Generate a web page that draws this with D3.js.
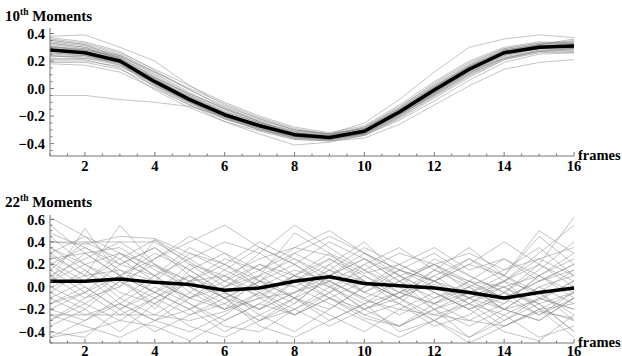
<!DOCTYPE html>
<html>
<head>
<meta charset="utf-8">
<script src="https://cdn.jsdelivr.net/npm/d3@7"></script>
<style>
  body { margin: 0; background: #fff; }
  text { font-family: "Liberation Serif", "Times New Roman", serif; font-weight: bold; }
</style>
</head>
<body>
<div id="chart"></div>
<script>
var svgWidth = 622;
var svgHeight = 356;

// frame numbers on the x axis
var frames = d3.range(1, 17);

// 10th moments: one row per sequence
var moments10 = [
  [0.38, 0.39, 0.30, 0.20, 0.02, -0.12, -0.22, -0.30, -0.33, -0.25, -0.08, 0.12, 0.30, 0.36, 0.39, 0.37],
  [-0.05, -0.05, -0.08, -0.10, -0.13, -0.20, -0.26, -0.32, -0.34, -0.30, -0.18, -0.02, 0.12, 0.22, 0.27, 0.29],
  [0.18, 0.17, 0.12, 0.00, -0.12, -0.22, -0.29, -0.36, -0.38, -0.36, -0.26, -0.12, 0.02, 0.14, 0.19, 0.21],
  [0.30, 0.28, 0.22, 0.08, -0.05, -0.17, -0.25, -0.33, -0.35, -0.30, -0.16, 0.00, 0.15, 0.27, 0.31, 0.32],
  [0.25, 0.24, 0.17, 0.02, -0.11, -0.22, -0.30, -0.36, -0.37, -0.33, -0.20, -0.04, 0.11, 0.23, 0.28, 0.29],
  [0.33, 0.30, 0.24, 0.10, -0.04, -0.15, -0.24, -0.31, -0.34, -0.28, -0.13, 0.03, 0.18, 0.29, 0.33, 0.34],
  [0.22, 0.21, 0.15, -0.01, -0.14, -0.24, -0.31, -0.37, -0.38, -0.34, -0.22, -0.07, 0.08, 0.21, 0.26, 0.27],
  [0.35, 0.32, 0.25, 0.12, -0.01, -0.13, -0.22, -0.30, -0.33, -0.29, -0.14, 0.02, 0.17, 0.28, 0.32, 0.35],
  [0.27, 0.26, 0.21, 0.06, -0.07, -0.18, -0.27, -0.34, -0.36, -0.32, -0.18, -0.02, 0.13, 0.25, 0.30, 0.30],
  [0.31, 0.27, 0.19, 0.03, -0.10, -0.21, -0.28, -0.34, -0.35, -0.31, -0.17, -0.01, 0.14, 0.26, 0.31, 0.33],
  [0.20, 0.20, 0.16, 0.04, -0.09, -0.20, -0.28, -0.35, -0.36, -0.31, -0.19, -0.05, 0.10, 0.22, 0.28, 0.28],
  [0.36, 0.33, 0.26, 0.14, 0.02, -0.10, -0.20, -0.28, -0.32, -0.27, -0.12, 0.05, 0.20, 0.30, 0.34, 0.33],
  [0.24, 0.23, 0.19, 0.07, -0.06, -0.18, -0.27, -0.35, -0.37, -0.33, -0.20, -0.03, 0.12, 0.24, 0.29, 0.31],
  [0.29, 0.27, 0.20, 0.04, -0.09, -0.21, -0.30, -0.37, -0.38, -0.32, -0.17, 0.00, 0.16, 0.27, 0.31, 0.30],
  [0.32, 0.29, 0.23, 0.09, -0.05, -0.16, -0.25, -0.33, -0.36, -0.33, -0.21, -0.06, 0.09, 0.21, 0.27, 0.28],
  [0.26, 0.25, 0.21, 0.07, -0.07, -0.19, -0.26, -0.32, -0.34, -0.29, -0.15, 0.02, 0.16, 0.27, 0.30, 0.32],
  [0.30, 0.29, 0.22, 0.05, -0.08, -0.18, -0.26, -0.33, -0.34, -0.30, -0.16, -0.01, 0.15, 0.28, 0.31, 0.29],
  [0.23, 0.24, 0.18, 0.03, -0.10, -0.20, -0.28, -0.34, -0.36, -0.31, -0.18, -0.03, 0.13, 0.25, 0.29, 0.30],
  [0.34, 0.31, 0.24, 0.11, -0.03, -0.15, -0.24, -0.32, -0.35, -0.31, -0.17, 0.00, 0.16, 0.27, 0.32, 0.34],
  [0.28, 0.25, 0.18, 0.01, -0.12, -0.24, -0.33, -0.41, -0.39, -0.34, -0.21, -0.05, 0.10, 0.22, 0.27, 0.26],
  [0.21, 0.22, 0.19, 0.08, -0.04, -0.14, -0.23, -0.30, -0.33, -0.29, -0.16, 0.01, 0.17, 0.28, 0.32, 0.36],
  [0.37, 0.34, 0.27, 0.13, -0.01, -0.14, -0.24, -0.33, -0.36, -0.32, -0.19, -0.04, 0.12, 0.25, 0.31, 0.31],
  [0.26, 0.24, 0.20, 0.06, -0.06, -0.17, -0.25, -0.31, -0.33, -0.28, -0.14, 0.04, 0.19, 0.29, 0.33, 0.32],
  [0.29, 0.28, 0.23, 0.08, -0.07, -0.20, -0.29, -0.36, -0.37, -0.33, -0.19, -0.03, 0.13, 0.25, 0.30, 0.31],
  [0.33, 0.30, 0.21, 0.04, -0.10, -0.22, -0.30, -0.35, -0.36, -0.30, -0.15, 0.01, 0.16, 0.27, 0.30, 0.30],
  [0.19, 0.19, 0.14, 0.02, -0.10, -0.21, -0.29, -0.35, -0.37, -0.34, -0.23, -0.09, 0.06, 0.19, 0.25, 0.26],
  [0.31, 0.28, 0.24, 0.12, 0.00, -0.11, -0.21, -0.29, -0.33, -0.29, -0.15, 0.01, 0.15, 0.26, 0.30, 0.33],
  [0.27, 0.27, 0.22, 0.07, -0.08, -0.20, -0.28, -0.35, -0.37, -0.32, -0.18, -0.02, 0.14, 0.26, 0.30, 0.29],
  [0.35, 0.32, 0.22, 0.05, -0.09, -0.20, -0.28, -0.34, -0.35, -0.31, -0.16, 0.00, 0.15, 0.27, 0.32, 0.33],
  [0.24, 0.22, 0.17, 0.05, -0.07, -0.18, -0.27, -0.34, -0.36, -0.32, -0.19, -0.04, 0.11, 0.24, 0.29, 0.31]
];
var mean10 = [0.28, 0.26, 0.20, 0.05, -0.08, -0.19, -0.27, -0.335, -0.355, -0.31, -0.17, -0.01, 0.14, 0.26, 0.30, 0.31];

// 22th moments: one row per sequence
var moments22 = [
  [0.62, 0.45, 0.30, 0.18, 0.05, 0.10, 0.25, 0.35, 0.28, 0.12, 0.20, 0.05, -0.05, -0.15, 0.10, 0.30],
  [0.40, 0.40, 0.40, 0.40, 0.22, 0.05, -0.08, 0.10, 0.30, 0.15, -0.05, 0.02, -0.10, -0.20, -0.12, 0.05],
  [-0.25, -0.25, -0.25, -0.25, -0.30, -0.22, -0.10, -0.05, 0.05, -0.12, -0.20, -0.25, -0.30, -0.35, -0.22, -0.28],
  [0.05, 0.52, 0.10, -0.20, 0.15, 0.30, 0.05, -0.10, 0.20, 0.40, 0.10, -0.15, 0.05, 0.25, 0.10, -0.05],
  [0.30, 0.10, 0.55, 0.20, -0.05, -0.20, 0.10, 0.48, 0.30, 0.05, -0.10, 0.15, 0.35, 0.10, 0.45, 0.20],
  [-0.45, -0.40, -0.30, -0.35, -0.48, -0.30, -0.15, -0.25, -0.10, -0.28, -0.35, -0.20, -0.45, -0.30, -0.15, -0.40],
  [0.20, 0.35, 0.15, 0.05, 0.30, 0.20, 0.00, -0.15, 0.10, 0.25, 0.05, 0.20, 0.02, -0.10, 0.05, 0.15],
  [-0.15, -0.05, 0.20, 0.35, 0.10, -0.10, -0.20, 0.05, 0.20, -0.05, -0.15, 0.10, 0.25, 0.05, -0.20, -0.30],
  [0.45, 0.20, 0.05, -0.10, -0.25, -0.15, 0.05, 0.20, 0.40, 0.25, 0.10, -0.05, -0.20, -0.10, 0.05, 0.20],
  [-0.35, -0.20, -0.40, -0.15, 0.05, -0.10, -0.35, -0.45, -0.30, -0.15, -0.40, -0.30, -0.15, -0.25, -0.45, -0.35],
  [0.10, -0.10, 0.00, 0.42, 0.25, 0.05, 0.30, 0.55, 0.35, 0.15, 0.00, 0.25, 0.10, -0.05, 0.15, 0.40],
  [-0.05, 0.15, -0.10, -0.25, -0.05, 0.15, 0.35, 0.20, 0.02, -0.20, -0.05, 0.10, -0.10, -0.30, -0.10, 0.05],
  [0.25, 0.30, 0.35, 0.15, 0.00, -0.15, -0.30, -0.20, 0.00, 0.15, 0.30, 0.20, 0.05, 0.00, -0.15, -0.05],
  [-0.20, -0.30, -0.10, 0.10, 0.35, 0.20, 0.05, -0.10, -0.30, -0.15, 0.05, -0.20, -0.35, -0.20, 0.00, 0.10],
  [0.55, 0.30, 0.10, 0.25, 0.45, 0.30, 0.15, 0.00, 0.15, 0.35, 0.20, 0.05, 0.20, 0.10, -0.10, -0.20],
  [-0.40, -0.45, -0.20, 0.00, -0.15, -0.35, -0.40, -0.20, -0.05, -0.25, -0.35, -0.15, 0.00, -0.20, -0.30, -0.10],
  [0.35, 0.15, -0.05, -0.15, 0.05, 0.25, 0.15, 0.35, 0.50, 0.30, 0.10, 0.20, -0.05, 0.05, 0.30, 0.55],
  [0.00, -0.15, -0.30, -0.10, 0.10, -0.05, -0.20, -0.05, 0.15, 0.05, -0.10, -0.25, -0.15, 0.05, 0.20, 0.00],
  [0.15, 0.40, 0.25, 0.05, -0.10, 0.05, 0.20, 0.10, -0.05, 0.20, 0.35, 0.15, 0.00, -0.20, 0.00, -0.15],
  [-0.10, 0.05, 0.30, 0.10, -0.15, -0.30, -0.15, 0.05, 0.25, 0.10, -0.10, -0.30, -0.45, -0.25, -0.10, -0.20],
  [0.40, 0.38, 0.45, 0.43, 0.30, 0.15, 0.00, 0.15, 0.05, -0.10, 0.05, 0.20, 0.30, 0.15, 0.25, 0.35],
  [-0.30, -0.10, 0.10, -0.05, -0.20, -0.40, -0.25, -0.10, -0.25, -0.40, -0.20, -0.05, -0.20, -0.40, -0.48, -0.25],
  [0.05, 0.20, 0.00, 0.25, 0.40, 0.55, 0.35, 0.20, 0.00, -0.15, -0.05, 0.15, 0.05, -0.10, -0.25, -0.10],
  [0.28, 0.10, -0.15, -0.30, -0.20, 0.00, 0.10, -0.10, -0.20, 0.00, 0.20, 0.35, 0.15, 0.25, 0.05, 0.20],
  [-0.25, -0.35, -0.45, -0.30, -0.10, 0.10, -0.05, -0.25, -0.10, 0.05, -0.15, -0.35, -0.25, -0.05, -0.15, -0.40],
  [0.10, 0.25, 0.40, 0.20, 0.05, -0.10, 0.05, 0.30, 0.15, -0.05, 0.15, 0.05, 0.20, 0.40, 0.20, 0.05],
  [-0.15, 0.00, -0.20, -0.40, -0.25, -0.10, 0.05, 0.00, -0.15, -0.30, -0.45, -0.30, -0.10, 0.05, -0.05, -0.30],
  [0.48, 0.35, 0.20, 0.35, 0.15, -0.05, -0.20, -0.05, 0.10, 0.25, 0.05, -0.10, 0.00, 0.15, 0.35, 0.10],
  [-0.05, -0.20, 0.05, 0.20, 0.00, -0.20, -0.10, 0.10, 0.00, -0.20, -0.10, 0.05, -0.15, -0.35, -0.20, -0.45],
  [0.20, 0.00, -0.20, -0.05, 0.20, 0.10, -0.10, -0.25, -0.05, 0.10, -0.05, -0.15, -0.30, -0.15, 0.10, 0.25],
  [-0.45, -0.30, -0.15, -0.30, -0.40, -0.25, -0.05, 0.10, -0.10, -0.25, -0.15, -0.30, -0.50, -0.35, -0.20, -0.05],
  [0.30, 0.45, 0.20, 0.10, 0.25, 0.40, 0.30, 0.10, 0.25, 0.05, -0.10, 0.05, 0.25, 0.10, -0.05, 0.15],
  [0.00, 0.10, 0.15, -0.05, -0.20, -0.05, 0.10, 0.25, 0.10, -0.05, 0.10, -0.05, -0.20, -0.05, 0.20, 0.62],
  [-0.20, -0.05, 0.10, 0.30, 0.15, -0.05, -0.25, -0.40, -0.20, 0.00, 0.15, 0.00, -0.15, 0.00, -0.20, -0.15],
  [0.15, -0.05, -0.25, -0.10, 0.05, 0.20, 0.40, 0.25, 0.05, 0.20, 0.00, -0.20, -0.05, 0.10, 0.50, 0.30],
  [-0.10, -0.25, -0.15, 0.05, -0.10, -0.20, -0.05, -0.20, -0.35, -0.20, -0.05, -0.15, -0.05, -0.20, -0.30, -0.10],
  [0.35, 0.20, 0.30, 0.10, -0.10, 0.00, 0.20, 0.05, -0.10, -0.20, -0.35, -0.20, -0.10, 0.05, 0.25, 0.10],
  [-0.30, -0.15, 0.05, -0.15, -0.35, -0.45, -0.30, -0.10, 0.05, -0.10, -0.25, -0.10, 0.05, -0.10, -0.05, -0.25],
  [0.05, 0.30, 0.10, -0.05, 0.10, -0.10, -0.30, -0.15, 0.10, 0.30, 0.15, 0.30, 0.10, -0.05, -0.25, -0.05],
  [0.22, 0.05, 0.25, 0.42, 0.20, 0.00, 0.15, 0.30, 0.45, 0.30, 0.15, 0.05, -0.10, 0.00, 0.10, -0.10]
];
var mean22 = [0.05, 0.05, 0.07, 0.04, 0.02, -0.03, -0.01, 0.05, 0.09, 0.03, 0.01, -0.01, -0.05, -0.10, -0.05, -0.01];

var xTicks = [2, 4, 6, 8, 10, 12, 14, 16];

var svg = d3.select("#chart")
  .append("svg")
  .attr("width", svgWidth)
  .attr("height", svgHeight);

// draws one panel: gray lines, thick mean, axes and labels
function drawPanel(cfg) {
  var x = d3.scaleLinear().domain([1, 16]).range([50, 574]);
  var y = d3.scaleLinear().domain(cfg.yDomain).range(cfg.yRange);

  var line = d3.line()
    .x((d, i) => x(frames[i]))
    .y(d => y(d));

  var g = svg.append("g");

  var clipId = "clip" + cfg.id;
  svg.append("clipPath").attr("id", clipId)
    .append("rect")
    .attr("x", x(1) - 1)
    .attr("y", cfg.yRange[1] - 4)
    .attr("width", x(16) - x(1) + 2)
    .attr("height", cfg.yRange[0] - cfg.yRange[1] + 4);

  var lines = g.append("g").attr("clip-path", `url(#${clipId})`);

  lines.selectAll(".gray")
    .data(cfg.series)
    .enter()
    .append("path")
    .attr("class", "gray")
    .attr("d", line)
    .attr("fill", "none")
    .attr("stroke", "#8a8a8a")
    .attr("stroke-opacity", 0.5)
    .attr("stroke-width", 1);

  lines.append("path")
    .datum(cfg.mean)
    .attr("d", line)
    .attr("fill", "none")
    .attr("stroke", "#000")
    .attr("stroke-width", 3.5)
    .attr("stroke-linejoin", "round");

  // x axis with inward ticks
  var xMinor = d3.range(1, 16.01, 0.5).filter(v => xTicks.indexOf(v) < 0);
  var xAxisG = g.append("g").attr("transform", `translate(0, ${cfg.yRange[0]})`);
  xAxisG.append("line")
    .attr("x1", x(1)).attr("x2", x(16))
    .attr("stroke", "#777").attr("stroke-width", 1);
  xAxisG.selectAll(".xmaj").data(xTicks).enter().append("line")
    .attr("x1", d => x(d)).attr("x2", d => x(d))
    .attr("y1", 0).attr("y2", -4)
    .attr("stroke", "#777");
  xAxisG.selectAll(".xmin").data(xMinor).enter().append("line")
    .attr("x1", d => x(d)).attr("x2", d => x(d))
    .attr("y1", 0).attr("y2", -2.5)
    .attr("stroke", "#777");
  xAxisG.selectAll(".xlab").data(xTicks).enter().append("text")
    .attr("x", d => x(d))
    .attr("y", cfg.labelY)
    .attr("text-anchor", "middle")
    .attr("font-size", 14.5)
    .text(d => d);

  xAxisG.append("text")
    .attr("x", 578)
    .attr("y", 4)
    .attr("font-size", 14.5)
    .text("frames");

  // y axis with inward ticks
  var yAxisG = g.append("g").attr("transform", `translate(${x(1)}, 0)`);
  yAxisG.append("line")
    .attr("y1", cfg.yRange[0]).attr("y2", cfg.yRange[1])
    .attr("stroke", "#777");
  var yMinor = d3.range(-0.5, cfg.yDomain[1], 0.05)
    .filter(v => v >= cfg.yDomain[0] && cfg.yTicks.every(t => Math.abs(t - v) > 0.01));
  yAxisG.selectAll(".ymaj").data(cfg.yTicks).enter().append("line")
    .attr("y1", d => y(d)).attr("y2", d => y(d))
    .attr("x1", 0).attr("x2", 4)
    .attr("stroke", "#777");
  yAxisG.selectAll(".ymin").data(yMinor).enter().append("line")
    .attr("y1", d => y(d)).attr("y2", d => y(d))
    .attr("x1", 0).attr("x2", 2.5)
    .attr("stroke", "#777");
  yAxisG.selectAll(".ylab").data(cfg.yTicks).enter().append("text")
    .attr("x", -5)
    .attr("y", d => y(d))
    .attr("dy", "0.35em")
    .attr("text-anchor", "end")
    .attr("font-size", 14.5)
    .text(d => d3.format(".1f")(d).replace("-", "\u2212"));

  // panel title with superscript
  var title = g.append("text")
    .attr("x", 5)
    .attr("y", cfg.titleY)
    .attr("font-size", 15);
  title.append("tspan").text(cfg.num);
  title.append("tspan").attr("dy", -6).attr("font-size", 9.5).text("th");
  title.append("tspan").attr("dy", 6).text(" Moments");
}

drawPanel({
  id: 1,
  series: moments10,
  mean: mean10,
  yDomain: [-0.49, 0.44],
  yRange: [156, 28],
  yTicks: [-0.4, -0.2, 0.0, 0.2, 0.4],
  num: "10",
  titleY: 21,
  labelY: 15
});

drawPanel({
  id: 2,
  series: moments22,
  mean: mean22,
  yDomain: [-0.5, 0.64],
  yRange: [343, 215],
  yTicks: [-0.4, -0.2, 0.0, 0.2, 0.4, 0.6],
  num: "22",
  titleY: 207,
  labelY: 12.5
});
</script>
</body>
</html>
